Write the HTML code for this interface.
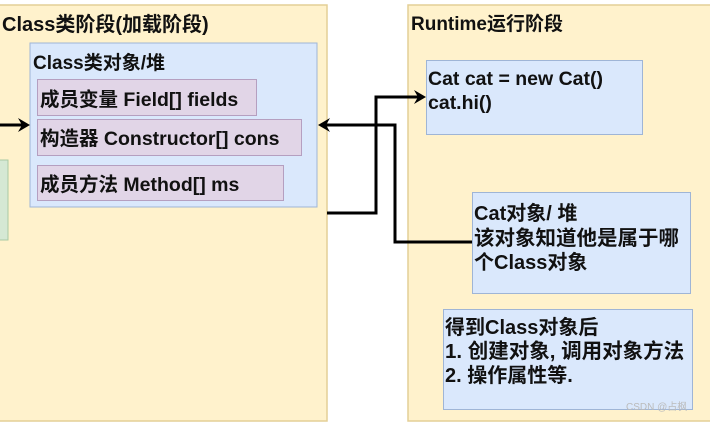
<!DOCTYPE html>
<html><head><meta charset="utf-8"><style>
html,body{margin:0;padding:0;background:#fff;width:710px;height:422px;overflow:hidden}
svg text{font-family:"Liberation Sans","Noto Sans CJK SC",sans-serif;font-weight:bold;fill:#111}
</style></head><body>
<svg width="710" height="422" viewBox="0 0 710 422" xmlns="http://www.w3.org/2000/svg">
<rect x="-2" y="5" width="329" height="416" fill="#fff2cc" stroke="#e4cf96" stroke-width="1.5"/>
<rect x="408" y="5" width="304" height="416" fill="#fff2cc" stroke="#e4cf96" stroke-width="1.5"/>
<rect x="-2" y="160" width="10" height="80" fill="#d5e8d4" stroke="#a9c9a4"/>
<rect x="30" y="43" width="287" height="164" fill="#dae8fc" stroke="#9fb5d6"/>
<rect x="37.5" y="79.5" width="219" height="36" fill="#e1d5e7" stroke="#b59fc0"/>
<rect x="37.5" y="119.5" width="264" height="36" fill="#e1d5e7" stroke="#b59fc0"/>
<rect x="37.5" y="165.5" width="246" height="35" fill="#e1d5e7" stroke="#b59fc0"/>
<rect x="426.5" y="60.5" width="216" height="74" fill="#dae8fc" stroke="#9fb5d6"/>
<rect x="472.5" y="192.5" width="218" height="101" fill="#dae8fc" stroke="#9fb5d6"/>
<rect x="443.5" y="309.5" width="249" height="100" fill="#dae8fc" stroke="#9fb5d6"/>
<text x="2" y="31" font-size="20">Class类阶段(加载阶段)</text>
<text x="33" y="69" font-size="19">Class类对象/堆</text>
<text x="40" y="106" font-size="19.5">成员变量 Field[] fields</text>
<text x="40" y="145" font-size="19.5">构造器 Constructor[] cons</text>
<text x="40" y="191" font-size="19.5">成员方法 Method[] ms</text>
<text x="411" y="30" font-size="19">Runtime运行阶段</text>
<text x="428" y="85" font-size="19.5">Cat cat = new Cat()</text>
<text x="428" y="109" font-size="19.5">cat.hi()</text>
<text x="474" y="220" font-size="20">Cat对象/ 堆</text>
<text x="474" y="245" font-size="20.5">该对象知道他是属于哪</text>
<text x="474" y="269" font-size="20">个Class对象</text>
<text x="445" y="334" font-size="20">得到Class对象后</text>
<text x="445" y="358" font-size="20.5">1. 创建对象, 调用对象方法</text>
<text x="445" y="382" font-size="20">2. 操作属性等.</text>
<text x="626" y="410" font-size="10" style="font-weight:normal;fill:#bbb">CSDN @占枫</text>
<g fill="none" stroke="#000" stroke-width="3">
<path d="M0 125 H22"/>
<path d="M472 242 H395 V125 H326"/>
<path d="M327 213 H376 V97 H418"/>
</g>
<g fill="#000">
<path d="M30 125 L18 118 L22 125 L18 132 Z"/>
<path d="M318 125 L330 118 L326 125 L330 132 Z"/>
<path d="M426 97 L414 90 L418 97 L414 104 Z"/>
</g>
</svg>
</body></html>
